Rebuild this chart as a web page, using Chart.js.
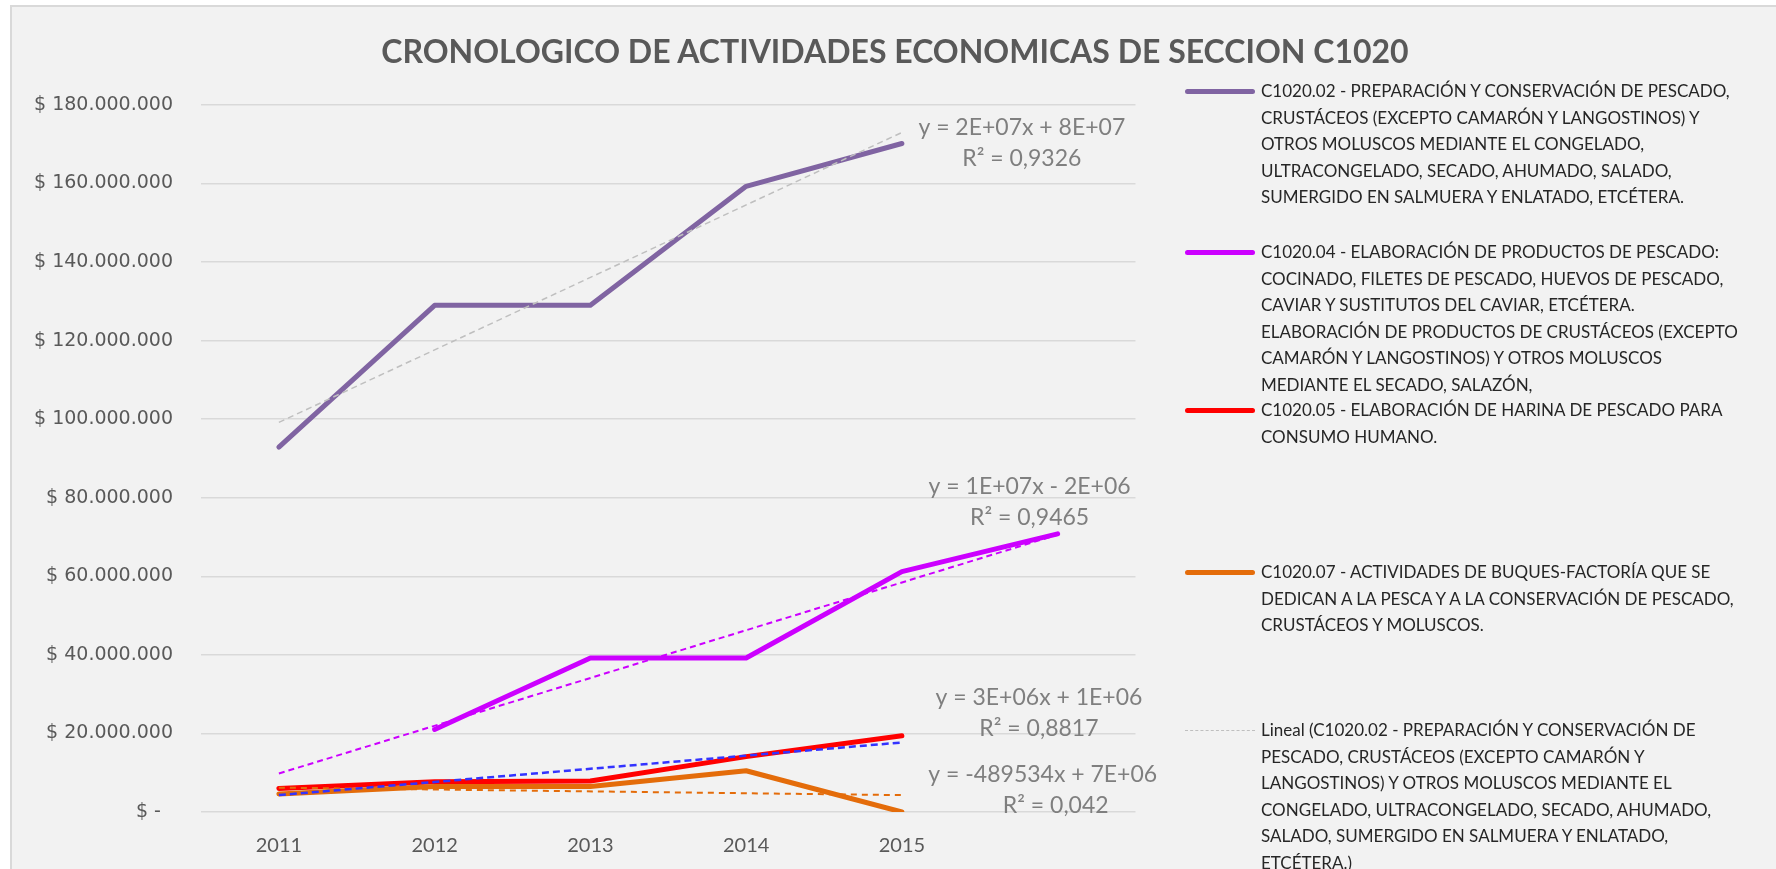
<!DOCTYPE html>
<html>
<head>
<meta charset="utf-8">
<script src="https://cdn.jsdelivr.net/npm/chart.js@4.4.1/dist/chart.umd.min.js"></script>
<style>
    html, body { margin: 0; padding: 0; background: #ffffff; }
    body { width: 1776px; height: 869px; overflow: hidden; position: relative; }
    .frame {
        position: absolute; left: 10px; top: 5px; width: 1800px; height: 900px;
        background: #f2f2f2; border-left: 2px solid #d9d9d9; border-top: 2px solid #d9d9d9;
    }
    #chart { position: absolute; left: 12px; top: 7px; }
    .title {
        position: absolute; left: 0; top: 31px; width: 1790px; text-align: center;
        font-family: Lato, sans-serif; font-weight: bold; font-size: 32px; line-height: 40px; color: #595959;
        white-space: nowrap;
    }
    .legend-item { position: absolute; left: 1185px; font-family: Lato, sans-serif; font-size: 17px; color: #262626; line-height: 26.6px; }
    .legend-item .swatch { position: absolute; left: 0; top: 11px; width: 70px; height: 0; }
    .legend-item .text { margin-left: 76px; white-space: nowrap; }
</style>
</head>
<body>
<div class="frame"></div>
<canvas id="chart" width="1764" height="862"></canvas>
<div class="title" id="title"></div>
<div id="legend"></div>

<script>
// ============================================
// DATA
// ============================================
const chartTitle = 'CRONOLOGICO DE ACTIVIDADES ECONOMICAS DE SECCION C1020';
const years = ['2011', '2012', '2013', '2014', '2015', ''];

const c102Values = [92.9, 129.0, 129.0, 159.3, 170.2, null];   // millions
const c104Values = [null, 21.0, 39.2, 39.2, 61.2, 70.8];
const c105Values = [6.0, 7.7, 7.9, 14.1, 19.4, null];
const c107Values = [4.6, 6.5, 6.5, 10.5, 0.0, null];

// trendline ends (millions)
const c102Trend = [99.2, null, null, null, 173.0, null];
const c104Trend = [9.8, null, null, null, null, 70.6];
const c105Trend = [4.3, null, null, null, 17.7, null];
const c107Trend = [6.2, null, null, null, 4.3, null];

const yTicks = [0, 20, 40, 60, 80, 100, 120, 140, 160, 180];

const c102Name = ['C1020.02 - PREPARACIÓN Y CONSERVACIÓN DE PESCADO,', 'CRUSTÁCEOS (EXCEPTO CAMARÓN Y LANGOSTINOS) Y', 'OTROS MOLUSCOS MEDIANTE EL CONGELADO,', 'ULTRACONGELADO, SECADO, AHUMADO, SALADO,', 'SUMERGIDO EN SALMUERA Y ENLATADO, ETCÉTERA.'];
const c104Name = ['C1020.04 - ELABORACIÓN DE PRODUCTOS DE PESCADO:', 'COCINADO, FILETES DE PESCADO, HUEVOS DE PESCADO,', 'CAVIAR Y SUSTITUTOS DEL CAVIAR, ETCÉTERA.', 'ELABORACIÓN DE PRODUCTOS DE CRUSTÁCEOS (EXCEPTO', 'CAMARÓN Y LANGOSTINOS) Y OTROS MOLUSCOS', 'MEDIANTE EL SECADO, SALAZÓN,'];
const c105Name = ['C1020.05 - ELABORACIÓN DE HARINA DE PESCADO PARA', 'CONSUMO HUMANO.'];
const c107Name = ['C1020.07 - ACTIVIDADES DE BUQUES-FACTORÍA QUE SE', 'DEDICAN A LA PESCA Y A LA CONSERVACIÓN DE PESCADO,', 'CRUSTÁCEOS Y MOLUSCOS.'];
const c102TrendName = ['Lineal (C1020.02 - PREPARACIÓN Y CONSERVACIÓN DE', 'PESCADO, CRUSTÁCEOS (EXCEPTO CAMARÓN Y', 'LANGOSTINOS) Y OTROS MOLUSCOS MEDIANTE EL', 'CONGELADO, ULTRACONGELADO, SECADO, AHUMADO,', 'SALADO, SUMERGIDO EN SALMUERA Y ENLATADO,', 'ETCÉTERA.)'];

const c102Equation = ['y = 2E+07x + 8E+07', 'R² = 0,9326'];
const c104Equation = ['y = 1E+07x - 2E+06', 'R² = 0,9465'];
const c105Equation = ['y = 3E+06x + 1E+06', 'R² = 0,8817'];
const c107Equation = ['y = -489534x + 7E+06', 'R² = 0,042'];

const M = 1000000;
const toPesos = arr => arr.map(v => v === null ? null : v * M);

function formatPesos(value) {
    if (value === 0) return '$ -  ';
    return '$ ' + String(Math.round(value)).replace(/\B(?=(\d{3})+(?!\d))/g, '.');
}

document.getElementById('title').textContent = chartTitle;

// ============================================
// TREND EQUATION LABELS
// ============================================
// anchor: category slot (float) and value in millions, next to each trendline end
const equationLabels = [
    { lines: c102Equation, at: 4.77, value: 170.2 },
    { lines: c104Equation, at: 4.82, value: 78.9 },
    { lines: c105Equation, at: 4.88, value: 25.2 },
    { lines: c107Equation, at: 4.93, value: 5.7, shift: [-4, 9] }
];

const trendLabelPlugin = {
    id: 'trendLabels',
    afterDatasetsDraw(chart) {
        const { ctx, scales: { x, y } } = chart;
        const step = x.getPixelForValue(1) - x.getPixelForValue(0);
        const lineGap = 31;
        ctx.save();
        ctx.font = '23px Lato';
        ctx.fillStyle = '#7f7f7f';
        ctx.textAlign = 'center';
        ctx.textBaseline = 'middle';
        equationLabels.forEach(item => {
            const px = x.getPixelForValue(0) + item.at * step;
            const py = y.getPixelForValue(item.value * M);
            item.lines.forEach((line, i) => {
                const dx = item.shift ? item.shift[i] : 0;
                ctx.fillText(line, px + dx, py + (i - (item.lines.length - 1) / 2) * lineGap);
            });
        });
        ctx.restore();
    }
};

// ============================================
// CHART
// ============================================
const lineBase = { borderCapStyle: 'round', borderJoinStyle: 'round', pointRadius: 0, fill: false, tension: 0 };

const chart = new Chart(document.getElementById('chart'), {
    type: 'line',
    data: {
        labels: years,
        datasets: [
            { ...lineBase, label: c102Name.join(' '), data: toPesos(c102Values), borderColor: '#8064a2', borderWidth: 5, order: 4 },
            { ...lineBase, label: c104Name.join(' '), data: toPesos(c104Values), borderColor: '#cc00ff', borderWidth: 5, order: 3 },
            { ...lineBase, label: c105Name.join(' '), data: toPesos(c105Values), borderColor: '#ff0000', borderWidth: 5, order: 2 },
            { ...lineBase, label: c107Name.join(' '), data: toPesos(c107Values), borderColor: '#e46c0a', borderWidth: 5, order: 1 },
            { ...lineBase, label: c102TrendName.join(' '), data: toPesos(c102Trend), borderColor: '#bfbfbf', borderWidth: 1.5, borderDash: [6, 4], borderCapStyle: 'butt', spanGaps: true, order: 0 },
            { ...lineBase, label: 'Lineal C1020.04', data: toPesos(c104Trend), borderColor: '#cc00ff', borderWidth: 2, borderDash: [6, 4], borderCapStyle: 'butt', spanGaps: true, order: 0 },
            { ...lineBase, label: 'Lineal C1020.05', data: toPesos(c105Trend), borderColor: '#3333ff', borderWidth: 2.5, borderDash: [7, 4], borderCapStyle: 'butt', spanGaps: true, order: 0 },
            { ...lineBase, label: 'Lineal C1020.07', data: toPesos(c107Trend), borderColor: '#e46c0a', borderWidth: 2, borderDash: [6, 5], borderCapStyle: 'butt', spanGaps: true, order: 0 }
        ]
    },
    options: {
        responsive: false,
        devicePixelRatio: 1,
        animation: false,
        layout: { padding: { left: 0, right: 640.5, top: 98, bottom: 0 } },
        plugins: {
            legend: { display: false },
            tooltip: { enabled: false },
            title: { display: false }
        },
        scales: {
            x: {
                offset: true,
                grid: { display: false },
                border: { display: false },
                ticks: { color: '#595959', font: { family: 'Lato', size: 20 }, padding: 14, maxRotation: 0, autoSkip: false },
                afterFit: scale => { scale.height = 57; }
            },
            y: {
                min: 0,
                max: 180 * M,
                afterBuildTicks: scale => { scale.ticks = yTicks.map(v => ({ value: v * M })); },
                grid: { color: '#d9d9d9', lineWidth: 1.5, drawTicks: false },
                border: { display: false },
                ticks: {
                    color: '#595959',
                    font: { family: 'DejaVu Sans', size: 19 },
                    padding: 28,
                    callback: value => formatPesos(value)
                },
                afterFit: scale => { scale.width = 189; }
            }
        }
    },
    plugins: [trendLabelPlugin]
});

// ============================================
// LEGEND (wrapped like the original)
// ============================================
const legendEntries = [
    { lines: c102Name, color: '#8064a2', dashed: false },
    { lines: c104Name, color: '#cc00ff', dashed: false },
    { lines: c105Name, color: '#ff0000', dashed: false },
    { lines: c107Name, color: '#e46c0a', dashed: false },
    { lines: c102TrendName, color: '#bfbfbf', dashed: true }
];
const legendTops = [78, 239, 397, 559, 717];

const legendEl = document.getElementById('legend');
legendEntries.forEach((entry, i) => {
    const item = document.createElement('div');
    item.className = 'legend-item';
    item.style.top = legendTops[i] + 'px';
    const swatch = document.createElement('div');
    swatch.className = 'swatch';
    if (entry.dashed) {
        swatch.style.borderTop = '1.5px dashed ' + entry.color;
        swatch.style.top = '13px';
    } else {
        swatch.style.borderTop = '5px solid ' + entry.color;
        swatch.style.borderRadius = '3px';
    }
    const text = document.createElement('div');
    text.className = 'text';
    text.innerHTML = entry.lines.join('<br>');
    item.appendChild(swatch);
    item.appendChild(text);
    legendEl.appendChild(item);
});
</script>
</body>
</html>
